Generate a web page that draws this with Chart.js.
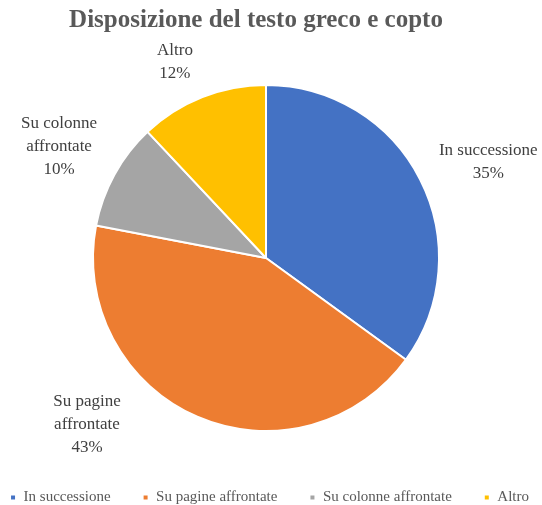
<!DOCTYPE html>
<html><head><meta charset="utf-8">
<script src="https://cdn.jsdelivr.net/npm/chart.js@4"></script>
<style>html,body{margin:0;padding:0;background:#fff;} #wrap{width:542px;height:505px;position:relative;}</style>
</head><body><div id="wrap"><canvas id="c"></canvas></div>
<script>
const titleText = 'Disposizione del testo greco e copto';
const categories = ['In successione', 'Su pagine affrontate', 'Su colonne affrontate', 'Altro'];
const labelLines = [['In successione'], ['Su pagine', 'affrontate'], ['Su colonne', 'affrontate'], ['Altro']];
const values = [35, 43, 10, 12];
const colors = ['#4472C4', '#ED7D31', '#A5A5A5', '#FFC000'];

const SERIF = '"Liberation Serif", "DejaVu Serif", serif';

const outLabels = {
  id: 'outLabels',
  afterDatasetsDraw(chart, args, opts) {
    const ctx = chart.ctx;
    const meta = chart.getDatasetMeta(0);
    const total = values.reduce((a, b) => a + b, 0);
    ctx.save();
    ctx.font = opts.font;
    ctx.fillStyle = opts.color;
    ctx.textAlign = 'center';
    ctx.textBaseline = 'middle';
    meta.data.forEach((arc, i) => {
      const p = arc.getProps(['x', 'y', 'startAngle', 'endAngle', 'outerRadius'], true);
      const mid = (p.startAngle + p.endAngle) / 2 + opts.angleShift[i] * Math.PI / 180;
      const r = p.outerRadius * opts.radial[i];
      const cx = p.x + Math.cos(mid) * r;
      const cy = p.y + Math.sin(mid) * r;
      const lines = labelLines[i].concat([Math.round(values[i] / total * 100) + '%']);
      const h = (lines.length - 1) * opts.lineHeight;
      lines.forEach((t, k) => ctx.fillText(t, cx, cy - h / 2 + k * opts.lineHeight));
    });
    ctx.restore();
  }
};

// nudges the title and legend boxes horizontally after layout
const shiftBoxes = {
  id: 'shiftBoxes',
  afterLayout(chart, args, opts) {
    if (chart.legend) { chart.legend.left += opts.legend; chart.legend.right += opts.legend; }
    if (chart.titleBlock) { chart.titleBlock.left += opts.title; chart.titleBlock.right += opts.title; }
  }
};

new Chart(document.getElementById('c'), {
  type: 'pie',
  data: {
    labels: categories,
    datasets: [{
      data: values,
      backgroundColor: colors,
      borderColor: '#ffffff',
      borderWidth: 2
    }]
  },
  plugins: [outLabels, shiftBoxes],
  options: {
    responsive: true,
    maintainAspectRatio: false,
    animation: false,
    layout: { padding: { top: 0, bottom: -10, left: -55, right: 10 } },
    plugins: {
      title: {
        display: true,
        text: titleText,
        color: '#595959',
        font: { family: SERIF, size: 25, weight: 'bold' },
        padding: { top: 6, bottom: 48 }
      },
      subtitle: {
        display: true,
        text: '',
        position: 'bottom',
        weight: 500,
        font: { size: 1 },
        padding: { top: 24.8, bottom: 0 }
      },
      legend: {
        position: 'bottom',
        labels: {
          boxWidth: 6,
          boxHeight: 6,
          padding: 32,
          color: '#595959',
          font: { family: SERIF, size: 15 }
        }
      },
      tooltip: { enabled: false },
      shiftBoxes: { legend: 31, title: 17.5 },
      outLabels: {
        font: '17px ' + SERIF,
        color: '#404040',
        lineHeight: 23,
        angleShift: [3.6, 23.6, -0.4, -3.3],
        radial: [1.40, 1.415, 1.36, 1.25]
      }
    }
  }
});
</script>
</body></html>
